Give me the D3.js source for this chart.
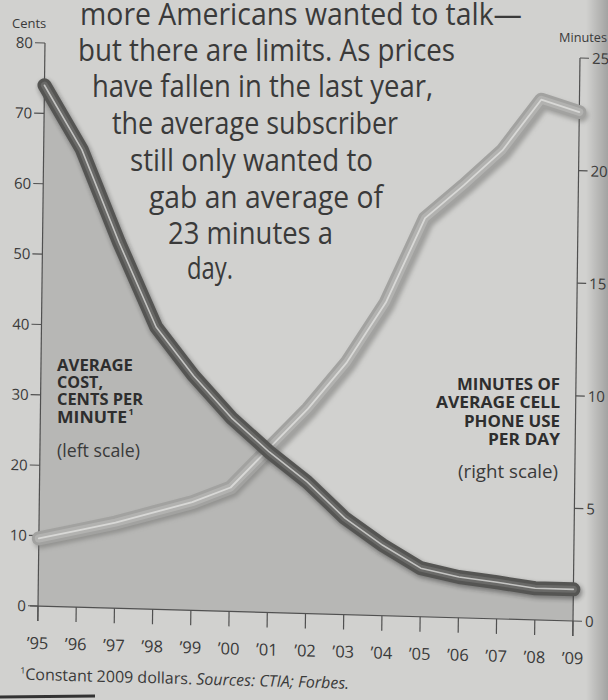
<!DOCTYPE html>
<html><head><meta charset="utf-8">
<script src="https://cdn.jsdelivr.net/npm/d3@7/dist/d3.min.js"></script>
<style>html,body{margin:0;padding:0;background:#d0d0ce;} svg{display:block}</style>
</head><body><svg id="chart" width="608" height="700"></svg>
<script>
// ---------- data ----------
const years = [1995,1996,1997,1998,1999,2000,2001,2002,2003,2004,2005,2006,2007,2008,2009];
const yearLabels = ["\u201995","\u201996","\u201997","\u201998","\u201999","\u201900","\u201901","\u201902","\u201903","\u201904","\u201905","\u201906","\u201907","\u201908","\u201909"];
const costCents = [74,65,52,40.1,33.3,27.5,22.8,18.7,13.7,10.0,6.9,5.8,5.2,4.5,4.5];
const minutesPerDay = [3.0,3.4,3.8,4.3,4.8,5.5,7.3,9.1,11.2,13.9,17.7,19.2,20.8,23.1,22.6];
const leftTicks = [0,10,20,30,40,50,60,70,80];
const rightTicks = [0,5,10,15,20,25];
const introLines = [
  "more Americans wanted to talk\u2014",
  "but there are limits. As prices",
  "have fallen in the last year,",
  "the average subscriber",
  "still only wanted to",
  "gab an average of",
  "23 minutes a",
  "day."
];
const leftLabelLines = ["AVERAGE","COST,","CENTS PER","MINUTE"];
const leftLabelSub = "(left scale)";
const rightLabelLines = ["MINUTES OF","AVERAGE CELL","PHONE USE","PER DAY"];
const rightLabelSub = "(right scale)";
const leftAxisTitle = "Cents";
const rightAxisTitle = "Minutes";
const footnoteA = "Constant 2009 dollars. ";
const footnoteB = "Sources: CTIA; Forbes.";

// ---------- layout ----------
const svg = d3.select("#chart");
const L = 40, R = 575, T = 50, B = 613;
const ink = "#3a3a3a";
const font = "'Open Sans', 'Noto Sans', sans-serif";

const x = d3.scaleLinear().domain([1995,2009]).range([L,R]);
const yL = d3.scaleLinear().domain([0,80]).range([B,T]);
const yR = d3.scaleLinear().domain([0,25]).range([B,T]);

const defs = svg.append("defs");
const f1 = defs.append("filter").attr("id","blur2").attr("x","-10%").attr("y","-10%").attr("width","120%").attr("height","120%");
f1.append("feGaussianBlur").attr("stdDeviation",2.2);
const g1 = defs.append("linearGradient").attr("id","edge").attr("x1",0).attr("x2",1).attr("y1",0).attr("y2",0);
g1.append("stop").attr("offset","0").attr("stop-color","#000").attr("stop-opacity",0);
g1.append("stop").attr("offset","1").attr("stop-color","#000").attr("stop-opacity",0.22);

// background
svg.append("rect").attr("width",608).attr("height",700).attr("fill","#d1d1cf");
svg.append("rect").attr("x",586).attr("y",0).attr("width",22).attr("height",700).attr("fill","url(#edge)");

// skewed chart group (scan is slightly tilted)
const g = svg.append("g").attr("transform","matrix(1,0.028,-0.0124,1,5.6,-8.1)");

// area under cost line
g.append("path")
  .datum(years.map((yr,i)=>({yr, c:costCents[i]})))
  .attr("d", d3.area().x(d=>x(d.yr)).y0(yL(0)).y1(d=>yL(d.c)))
  .attr("fill","#b7b7b5");

// axes lines
g.append("line").attr("x1",L).attr("x2",L).attr("y1",yL(80)).attr("y2",B+15).attr("stroke","#505050").attr("stroke-width",1.2);
g.append("line").attr("x1",R).attr("x2",R).attr("y1",yR(25)).attr("y2",B+15).attr("stroke","#505050").attr("stroke-width",1.2);
g.append("line").attr("x1",L-8).attr("x2",R).attr("y1",B).attr("y2",B).attr("stroke","#505050").attr("stroke-width",1.2);

// left ticks
leftTicks.forEach(v=>{
  g.append("line").attr("x1",L-10).attr("x2",L).attr("y1",yL(v)).attr("y2",yL(v)).attr("stroke","#505050").attr("stroke-width",1.2);
  g.append("text").attr("x",L-12).attr("y",yL(v)+5.5).attr("text-anchor","end")
    .attr("font-family",font).attr("font-size",15).attr("fill",ink).text(v);
});
// right ticks
rightTicks.forEach(v=>{
  g.append("line").attr("x1",R).attr("x2",R+9).attr("y1",yR(v)).attr("y2",yR(v)).attr("stroke","#505050").attr("stroke-width",1.2);
  g.append("text").attr("x",R+12).attr("y",yR(v)+5.5).attr("text-anchor","start")
    .attr("font-family",font).attr("font-size",15).attr("fill",ink).text(v);
});
// x ticks
years.forEach((yr,i)=>{
  g.append("line").attr("x1",x(yr)).attr("x2",x(yr)).attr("y1",B).attr("y2",B+15).attr("stroke","#505050").attr("stroke-width",1.2);
  g.append("text").attr("x",x(yr)).attr("y",B+43).attr("text-anchor","middle")
    .attr("font-family",font).attr("font-size",16.5).attr("fill",ink).text(yearLabels[i]);
});

// lines
const lineC = d3.line().x((d,i)=>x(years[i])).y(d=>yL(d));
const lineM = d3.line().x((d,i)=>x(years[i])).y(d=>yR(d));

// minutes line (light)
g.append("path").attr("d",lineM(minutesPerDay)).attr("fill","none")
  .attr("stroke","#6e6e6c").attr("stroke-opacity",0.5).attr("stroke-width",14)
  .attr("stroke-linecap","round").attr("stroke-linejoin","round")
  .attr("transform","translate(2,3)").attr("filter","url(#blur2)");
g.append("path").attr("d",lineM(minutesPerDay)).attr("fill","none")
  .attr("stroke","#a2a2a0").attr("stroke-width",14)
  .attr("stroke-linecap","round").attr("stroke-linejoin","round");
g.append("path").attr("d",lineM(minutesPerDay)).attr("fill","none")
  .attr("stroke","#b2b2b0").attr("stroke-width",8)
  .attr("stroke-linecap","round").attr("stroke-linejoin","round");
g.append("path").attr("d",lineM(minutesPerDay)).attr("fill","none")
  .attr("stroke","#d8d8d6").attr("stroke-width",1.8)
  .attr("stroke-linecap","round").attr("stroke-linejoin","round");

// cost line (dark)
g.append("path").attr("d",lineC(costCents)).attr("fill","none")
  .attr("stroke","#2e2e2e").attr("stroke-opacity",0.45).attr("stroke-width",15)
  .attr("stroke-linecap","round").attr("stroke-linejoin","round")
  .attr("transform","translate(1.5,2.5)").attr("filter","url(#blur2)");
g.append("path").attr("d",lineC(costCents)).attr("fill","none")
  .attr("stroke","#555553").attr("stroke-width",14)
  .attr("stroke-linecap","round").attr("stroke-linejoin","round");
g.append("path").attr("d",lineC(costCents)).attr("fill","none")
  .attr("stroke","#6a6a68").attr("stroke-width",7)
  .attr("stroke-linecap","round").attr("stroke-linejoin","round");
g.append("path").attr("d",lineC(costCents)).attr("fill","none")
  .attr("stroke","#c4c4c2").attr("stroke-width",1.6)
  .attr("stroke-linecap","round").attr("stroke-linejoin","round");

// footnote
const fn = g.append("text").attr("x",23).attr("y",687).attr("font-family",font).attr("font-size",16).attr("fill",ink);
fn.append("tspan").attr("font-size",9).attr("dy",-6).text("1");
fn.append("tspan").attr("dy",6).text(footnoteA);
fn.append("tspan").attr("font-style","italic").text(footnoteB);

// ---------- untransformed text ----------
// intro text
const introX = [80,78,92,112,130,149,168,187];
const introY = [25,61,97,134,171,208,244,279];
const introW = [442,377,341,286,243,234,165,46];
introLines.forEach((s,i)=>{
  svg.append("text").attr("x",introX[i]).attr("y",introY[i])
    .attr("font-family",font).attr("font-size",31).attr("fill",ink)
    .attr("textLength",introW[i]).attr("lengthAdjust","spacingAndGlyphs").text(s);
});

// axis titles
svg.append("text").attr("x",12).attr("y",28).attr("font-family",font).attr("font-size",13).attr("fill",ink).text(leftAxisTitle);
svg.append("text").attr("x",559).attr("y",42).attr("font-family",font).attr("font-size",12.5).attr("fill",ink)
  .attr("textLength",48).attr("lengthAdjust","spacingAndGlyphs").text(rightAxisTitle);

// left series label
const llY = [371,388,405,423];
const llW = [76,46,86,70];
leftLabelLines.forEach((s,i)=>{
  svg.append("text").attr("x",57).attr("y",llY[i]).attr("font-family",font).attr("font-weight","bold")
    .attr("font-size",16.5).attr("fill","#2e2e2e").attr("textLength",llW[i]).attr("lengthAdjust","spacingAndGlyphs").text(s);
});
svg.append("text").attr("x",128.5).attr("y",415).attr("font-family",font).attr("font-weight","bold")
  .attr("font-size",9).attr("fill","#2e2e2e").text("1");
svg.append("text").attr("x",57).attr("y",457).attr("font-family",font)
  .attr("font-size",19).attr("fill",ink).attr("textLength",83).attr("lengthAdjust","spacingAndGlyphs").text(leftLabelSub);

// right series label
const rlY = [390,408,427,445];
const rlW = [103,124,96,72];
rightLabelLines.forEach((s,i)=>{
  svg.append("text").attr("x",560-rlW[i]).attr("y",rlY[i]).attr("font-family",font).attr("font-weight","bold")
    .attr("font-size",16.5).attr("fill","#2e2e2e").attr("textLength",rlW[i]).attr("lengthAdjust","spacingAndGlyphs").text(s);
});
svg.append("text").attr("x",458).attr("y",478).attr("font-family",font)
  .attr("font-size",19).attr("fill",ink).attr("textLength",100).attr("lengthAdjust","spacingAndGlyphs").text(rightLabelSub);

// dark rule at bottom-left
svg.append("line").attr("x1",0).attr("x2",95).attr("y1",697).attr("y2",696).attr("stroke","#333").attr("stroke-width",3);
</script>
</body></html>
